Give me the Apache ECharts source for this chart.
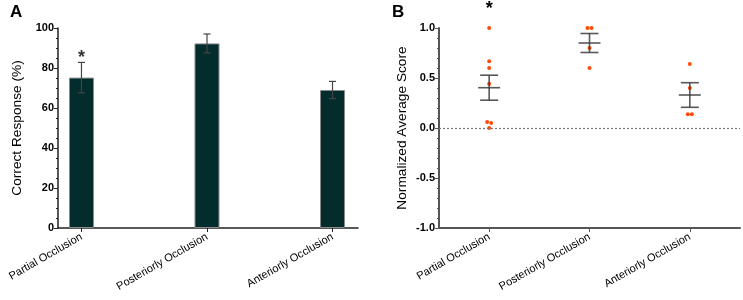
<!DOCTYPE html>
<html>
<head>
<meta charset="utf-8">
<script src="https://cdn.jsdelivr.net/npm/echarts@6/dist/echarts.min.js"></script>
<style>
html,body{margin:0;padding:0;background:#fff;}
#c{width:743px;height:300px;}
</style>
</head>
<body>
<div id="c"></div>
<script>
// ---- Data ----
const categories = ['Partial Occlusion', 'Posteriorly Occlusion', 'Anteriorly Occlusion'];
// Panel A: correct response (%)
const barMeans = [75.2, 92.3, 69.0];
const barErrors = [7.6, 4.7, 4.3];
const starsA = [85, null, null];       // significance marker heights (A)
const yTicksA = [0, 20, 40, 60, 80, 100];
// Panel B: normalized average score (individual points per group)
const scoresPartial = [1.0, 0.667, 0.60, 0.443, 0.06, 0.05, 0.0];
const scoresPosterior = [1.0, 1.0, 0.80, 0.60];
const scoresAnterior = [0.64, 0.40, 0.137, 0.137];
const groupMeans = [0.403, 0.85, 0.33];
const groupSem = [0.125, 0.095, 0.123];
const starsB = [1.19, null, null];
const yTicksB = [-1.0, -0.5, 0.0, 0.5, 1.0];

// ---- Build ----
const FONT = 'Liberation Sans, Arial, sans-serif';
const groups = [scoresPartial, scoresPosterior, scoresAnterior];
// jitter: spread near-identical values horizontally
const dotData = [];
groups.forEach((arr, gi) => {
  const used = new Array(arr.length).fill(false);
  for (let i = 0; i < arr.length; i++) {
    if (used[i]) continue;
    const cluster = [i];
    used[i] = true;
    for (let j = i + 1; j < arr.length; j++) {
      if (!used[j] && Math.abs(arr[j] - arr[i]) < 0.03) { cluster.push(j); used[j] = true; }
    }
    cluster.forEach((k, ci) => {
      dotData.push([gi, arr[k], ci - (cluster.length - 1) / 2]);
    });
  }
});

const chart = echarts.init(document.getElementById('c'), null, {renderer: 'canvas'});

const errA = barMeans.map((m, i) => [i, m, barErrors[i]]);
const errB = groupMeans.map((m, i) => [i, m, groupSem[i]]);

const starLabel = {
  show: true, position: 'inside', formatter: '*',
  fontSize: 18, fontWeight: 'bold', color: '#000', fontFamily: FONT
};

const option = {
  animation: false,
  backgroundColor: '#fff',
  textStyle: {fontFamily: FONT},
  graphic: [
    {type: 'text', left: 10, top: 4, style: {text: 'A', font: 'bold 17px ' + FONT, fill: '#000'}},
    {type: 'text', left: 392, top: 4, style: {text: 'B', font: 'bold 17px ' + FONT, fill: '#000'}}
  ],
  grid: [
    {left: 58, top: 28, width: 300, height: 200},
    {left: 439, top: 28, width: 301, height: 200}
  ],
  xAxis: [
    {
      gridIndex: 0, type: 'value', min: -0.187, max: 2.203,
      splitLine: {show: false},
      axisLine: {show: true, onZero: false, lineStyle: {color: '#222', width: 1.5}},
      axisTick: {show: true, customValues: [0, 1, 2], length: 4, lineStyle: {color: '#222'}},
      axisLabel: {
        customValues: [0, 1, 2], rotate: 30, margin: 8,
        formatter: v => categories[Math.round(v)],
        fontSize: 11, color: '#000', fontFamily: FONT
      }
    },
    {
      gridIndex: 1, type: 'category', data: categories, boundaryGap: true,
      axisLine: {show: true, onZero: false, lineStyle: {color: '#555', width: 2}},
      axisTick: {show: true, alignWithLabel: true, length: 4, lineStyle: {color: '#555'}},
      axisLabel: {rotate: 30, margin: 8, fontSize: 11, color: '#000', fontFamily: FONT, interval: 0},
      splitLine: {show: false}
    }
  ],
  yAxis: [
    {
      gridIndex: 0, type: 'value', min: yTicksA[0], max: yTicksA[yTicksA.length - 1], interval: 20,
      name: 'Correct Response (%)', nameLocation: 'middle', nameGap: 34,
      nameTextStyle: {fontSize: 13.7, color: '#000', fontFamily: FONT},
      axisLine: {show: true, onZero: false, lineStyle: {color: '#222', width: 1.5}},
      axisTick: {show: true, length: 4, lineStyle: {color: '#222'}},
      minorTick: {show: true, splitNumber: 4, length: 2, lineStyle: {color: '#222'}},
      axisLabel: {fontSize: 11, fontWeight: 'bold', color: '#000', margin: 4, fontFamily: FONT},
      splitLine: {show: false}
    },
    {
      gridIndex: 1, type: 'value', min: yTicksB[0], max: yTicksB[yTicksB.length - 1], interval: 0.5,
      name: 'Normalized Average Score', nameLocation: 'middle', nameGap: 30,
      nameTextStyle: {fontSize: 13.7, color: '#000', fontFamily: FONT},
      axisLine: {show: true, onZero: false, lineStyle: {color: '#555', width: 2}},
      axisTick: {show: true, length: 4, lineStyle: {color: '#555'}},
      minorTick: {show: true, splitNumber: 5, length: 2, lineStyle: {color: '#555'}},
      axisLabel: {fontSize: 11, fontWeight: 'bold', color: '#000', margin: 4, fontFamily: FONT,
        formatter: v => v.toFixed(1)},
      splitLine: {show: false}
    }
  ],
  series: [
    {
      type: 'bar', xAxisIndex: 0, yAxisIndex: 0, barWidth: 25,
      data: barMeans.map((m, i) => [i, m]),
      itemStyle: {color: '#032d2d', borderColor: '#8a8a8a', borderWidth: 1}
    },
    {
      type: 'custom', xAxisIndex: 0, yAxisIndex: 0, data: errA, z: 5,
      renderItem: (params, api) => {
        const x = api.value(0), m = api.value(1), e = api.value(2);
        const top = api.coord([x, m + e]), bot = api.coord([x, m - e]);
        const cw = 3.5;
        const st = {stroke: '#444', lineWidth: 1.2};
        return {type: 'group', children: [
          {type: 'line', shape: {x1: top[0], y1: top[1], x2: bot[0], y2: bot[1]}, style: st},
          {type: 'line', shape: {x1: top[0] - cw, y1: top[1], x2: top[0] + cw, y2: top[1]}, style: st},
          {type: 'line', shape: {x1: bot[0] - cw, y1: bot[1], x2: bot[0] + cw, y2: bot[1]}, style: st}
        ]};
      }
    },
    {
      type: 'scatter', xAxisIndex: 0, yAxisIndex: 0, symbolSize: 1, silent: true, clip: false,
      itemStyle: {color: 'rgba(0,0,0,0)'},
      data: starsA.map((v, i) => v == null ? null : [i, v]).filter(d => d),
      label: starLabel
    },
    {
      type: 'custom', xAxisIndex: 1, yAxisIndex: 1, data: dotData, z: 3,
      renderItem: (params, api) => {
        const p = api.coord([api.value(0), api.value(1)]);
        return {type: 'circle', shape: {cx: p[0] + api.value(2) * 4, cy: p[1], r: 2}, style: {fill: '#ff4a0a'}};
      },
      markLine: {
        silent: true, symbol: 'none', label: {show: false},
        lineStyle: {color: '#777', type: [2, 2], width: 1.2},
        data: [{yAxis: 0}]
      }
    },
    {
      type: 'custom', xAxisIndex: 1, yAxisIndex: 1, data: errB, z: 4,
      renderItem: (params, api) => {
        const x = api.value(0), m = api.value(1), e = api.value(2);
        const mid = api.coord([x, m]), top = api.coord([x, m + e]), bot = api.coord([x, m - e]);
        const cw = 9, mw = 11;
        const st = {stroke: 'rgba(60,60,60,0.85)', lineWidth: 1.6};
        return {type: 'group', children: [
          {type: 'line', shape: {x1: top[0], y1: top[1], x2: bot[0], y2: bot[1]}, style: st},
          {type: 'line', shape: {x1: top[0] - cw, y1: top[1], x2: top[0] + cw, y2: top[1]}, style: st},
          {type: 'line', shape: {x1: bot[0] - cw, y1: bot[1], x2: bot[0] + cw, y2: bot[1]}, style: st},
          {type: 'line', shape: {x1: mid[0] - mw, y1: mid[1], x2: mid[0] + mw, y2: mid[1]}, style: st}
        ]};
      }
    },
    {
      type: 'custom', xAxisIndex: 1, yAxisIndex: 1, clip: false,
      data: starsB.map((v, i) => v == null ? null : [i, v]).filter(d => d),
      renderItem: (params, api) => {
        const p = api.coord([api.value(0), api.value(1)]);
        return {type: 'text', x: p[0], y: p[1], style: {text: '*', font: 'bold 18px ' + FONT, fill: '#000', align: 'center', verticalAlign: 'middle'}};
      }
    }
  ]
};
chart.setOption(option);
</script>
</body>
</html>
